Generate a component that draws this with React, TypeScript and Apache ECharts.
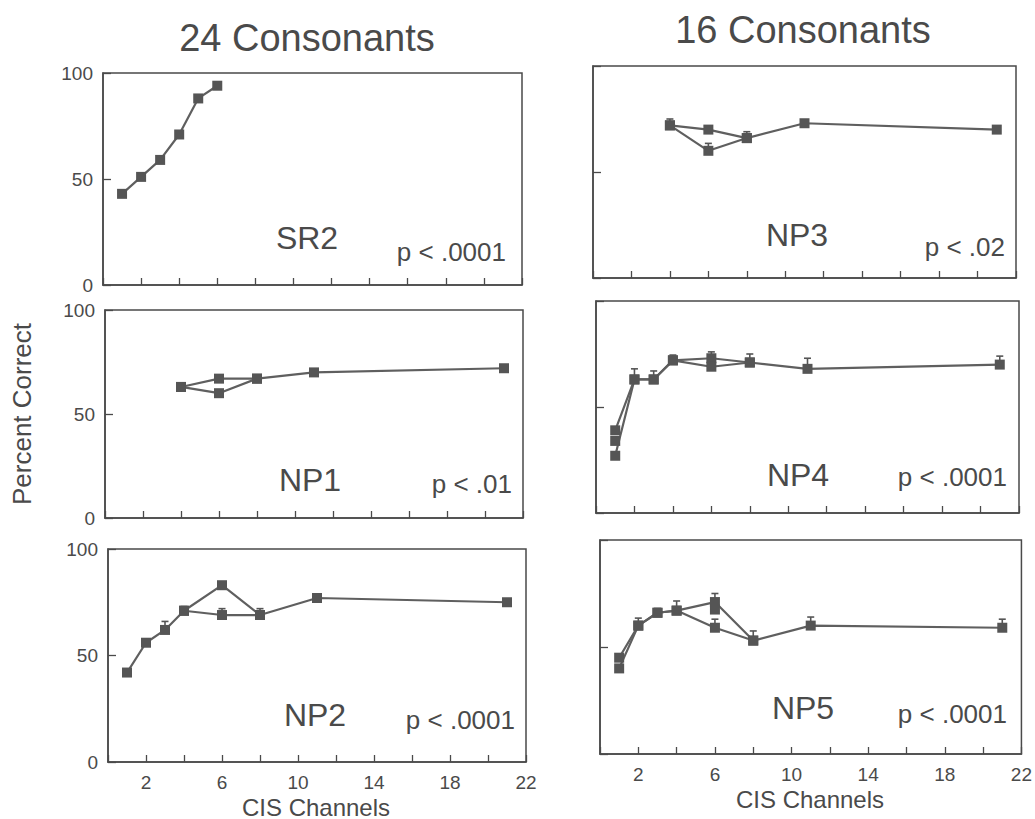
import React, { useEffect, useRef } from "react";
import * as echarts from "echarts";

// ---- data (x = CIS channels, y = percent correct) ----
const xTickLabels = [2, 6, 10, 14, 18, 22];

const sr2A = [[1, 43], [2, 51], [3, 59], [4, 71], [5, 88], [6, 94]];

const np1A = [[4, 63], [6, 67], [8, 67], [11, 70], [21, 72]];
const np1B = [[4, 63], [6, 60], [8, 67]];

const np2A = [[1, 42], [2, 56], [3, 62], [4, 71], [6, 83], [8, 69], [11, 77], [21, 75]];
const np2B = [[4, 71], [6, 69], [8, 69]];
const np2Err = [[3, 62, 66], [4, 71, 73], [6, 69, 72], [8, 69, 72]];

const np3A = [[4, 72], [6, 70], [8, 66], [11, 73], [21, 70]];
const np3B = [[4, 72], [6, 60], [8, 66]];
const np3Err = [[4, 72, 75], [6, 60, 63.5], [8, 66, 69]];

const np4A = [[1, 39], [2, 63], [3, 63], [4, 72], [6, 73], [8, 71], [11, 68], [21, 70]];
const np4B = [[1, 27], [2, 63], [3, 63], [4, 72], [6, 69], [8, 71]];
const np4C = [[1, 34]];
const np4Err = [[2, 63, 68], [3, 63, 67], [4, 72, 74.5], [6, 73, 76], [8, 71, 75], [11, 68, 73], [21, 70, 74]];

const np5A = [[1, 45], [2, 60], [3, 66], [4, 67], [6, 71], [8, 53], [11, 60], [21, 59]];
const np5B = [[1, 40], [2, 60], [3, 66], [4, 67], [6, 59], [8, 53]];
const np5C = [[6, 67.5]];
const np5Err = [[2, 60, 63.5], [3, 66, 68], [4, 67, 71.5], [6, 71, 75], [6, 59, 63], [8, 53, 57.5], [11, 60, 64], [21, 59, 63]];

const panelNames = ["SR2", "NP1", "NP2", "NP3", "NP4", "NP5"];
const pValues = ["p < .0001", "p < .01", "p < .0001", "p < .02", "p < .0001", "p < .0001"];

const FONT = "'Liberation Sans', Arial, Helvetica, sans-serif";
const MARK = "#555555";
const LINE = "#5f5f5f";
const BORDER = "#4a4a4a";
const TEXT = "#4a4a4a";

// panel frames (px)
const frames = [
  { left: 103, top: 73, width: 419, height: 212 },
  { left: 105, top: 310, width: 418, height: 208 },
  { left: 108, top: 549, width: 418, height: 213 },
  { left: 593, top: 66, width: 423, height: 212 },
  { left: 596, top: 301, width: 423, height: 212 },
  { left: 600, top: 540, width: 422, height: 214 },
];

function lineSeries(data: number[][], g: number) {
  return {
    type: "line",
    xAxisIndex: g,
    yAxisIndex: g,
    data,
    symbol: "rect",
    symbolSize: 10,
    itemStyle: { color: MARK },
    lineStyle: { color: LINE, width: 2.2 },
    z: 3,
  };
}

function errSeries(data: number[][], g: number) {
  return {
    type: "custom",
    xAxisIndex: g,
    yAxisIndex: g,
    data,
    z: 2,
    renderItem: (params: any, api: any) => {
      const x = api.value(0);
      const lo = api.coord([x, api.value(1)]);
      const hi = api.coord([x, api.value(2)]);
      const st = { stroke: MARK, lineWidth: 1.6 };
      return {
        type: "group",
        children: [
          { type: "line", shape: { x1: lo[0], y1: lo[1], x2: hi[0], y2: hi[1] }, style: st },
          { type: "line", shape: { x1: hi[0] - 3.5, y1: hi[1], x2: hi[0] + 3.5, y2: hi[1] }, style: st },
        ],
      };
    },
  };
}

export default function App() {
  const ref = useRef<HTMLDivElement>(null);
  useEffect(() => {
    if (!ref.current) return;
    const chart = echarts.init(ref.current, undefined, { renderer: "svg" });

    const grids = frames.map((f) => ({
      ...f,
      show: true,
      borderColor: BORDER,
      borderWidth: 1.5,
      backgroundColor: "#ffffff",
      containLabel: false,
    }));

    const xAxes = frames.map((_, i) => ({
      type: "value",
      gridIndex: i,
      min: 0,
      max: 22,
      interval: 2,
      axisLine: { show: true, lineStyle: { color: BORDER, width: 1.5 } },
      axisTick: { show: true, inside: true, length: 7, lineStyle: { color: BORDER, width: 1.3 } },
      splitLine: { show: false },
      axisLabel: {
        show: i === 2 || i === 5,
        margin: 11,
        fontSize: 19,
        fontFamily: FONT,
        color: TEXT,
        formatter: (v: number) => (xTickLabels.includes(v) ? String(v) : ""),
      },
    }));

    const yAxes = frames.map((_, i) => ({
      type: "value",
      gridIndex: i,
      min: 0,
      max: 100,
      interval: 50,
      axisLine: { show: true, lineStyle: { color: BORDER, width: 1.5 } },
      axisTick: { show: true, inside: true, length: 8, lineStyle: { color: BORDER, width: 1.3 } },
      splitLine: { show: false },
      axisLabel: {
        show: i < 3,
        margin: 10,
        fontSize: 19,
        fontFamily: FONT,
        color: TEXT,
      },
    }));

    const series: any[] = [
      lineSeries(sr2A, 0),
      lineSeries(np1A, 1),
      lineSeries(np1B, 1),
      errSeries(np2Err, 2),
      lineSeries(np2A, 2),
      lineSeries(np2B, 2),
      errSeries(np3Err, 3),
      lineSeries(np3A, 3),
      lineSeries(np3B, 3),
      errSeries(np4Err, 4),
      lineSeries(np4A, 4),
      lineSeries(np4B, 4),
      lineSeries(np4C, 4),
      errSeries(np5Err, 5),
      lineSeries(np5A, 5),
      lineSeries(np5B, 5),
      lineSeries(np5C, 5),
    ];

    const namePos = [
      [307, 238], [310, 480], [315, 715],
      [797, 235], [798, 475], [803, 708],
    ];
    const pPos = [
      [506, 252], [512, 484], [515, 720],
      [1005, 247], [1007, 477], [1007, 714],
    ];

    const txt = (text: string, x: number, y: number, size: number, align = "center", rot = 0) => ({
      type: "text",
      x,
      y,
      rotation: rot,
      z: 10,
      style: {
        text,
        fontSize: size,
        fontFamily: FONT,
        fill: TEXT,
        align,
        verticalAlign: "middle",
      },
    });

    const graphic: any[] = [
      txt("24 Consonants", 307, 38, 38),
      txt("16 Consonants", 803, 30, 38),
      txt("Percent Correct", 22, 414, 26, "center", Math.PI / 2),
      txt("CIS Channels", 316, 807, 24),
      txt("CIS Channels", 810, 799, 24),
      ...panelNames.map((n, i) => txt(n, namePos[i][0], namePos[i][1], 32)),
      ...pValues.map((p, i) => txt(p, pPos[i][0], pPos[i][1], 26, "right")),
    ];

    chart.setOption({
      animation: false,
      backgroundColor: "#ffffff",
      grid: grids,
      xAxis: xAxes,
      yAxis: yAxes,
      series,
      graphic,
    });
    return () => chart.dispose();
  }, []);

  return (
    <div
      ref={ref}
      style={{ position: "absolute", left: 0, top: 0, width: 1035, height: 819, background: "#fff" }}
    />
  );
}
